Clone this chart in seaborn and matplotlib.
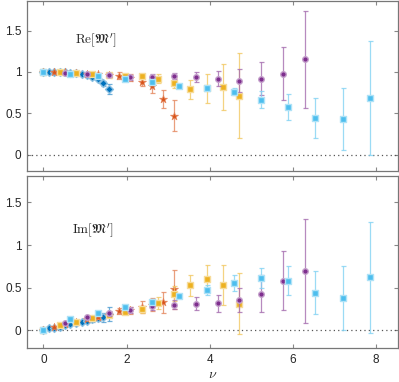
import numpy as np
import pandas as pd
import matplotlib
matplotlib.use("Agg")
import matplotlib.pyplot as plt
import matplotlib.colors as mcolors
import seaborn as sns

# ---- data ----
series_names = ["s1", "s2", "s3", "s4", "s5"]

nu_s1 = [0.00, 0.13, 0.26, 0.39, 0.52, 0.65, 0.79, 0.92, 1.05, 1.18, 1.31, 1.44, 1.57]
nu_s2 = [0.00, 0.26, 0.52, 0.79, 1.05, 1.31, 1.57, 1.83, 2.09, 2.36, 2.62, 2.88, 3.14]
nu_s3 = [0.00, 0.39, 0.79, 1.18, 1.57, 1.96, 2.36, 2.75, 3.14, 3.53, 3.93, 4.32, 4.71]
nu_s4 = [0.00, 0.52, 1.05, 1.57, 2.09, 2.62, 3.14, 3.67, 4.19, 4.71, 5.24, 5.76, 6.28]
nu_s5 = [0.00, 0.65, 1.31, 1.96, 2.62, 3.27, 3.93, 4.58, 5.24, 5.89, 6.54, 7.20, 7.85]

re_s1 = [1.00, 1.00, 1.00, 1.00, 0.995, 0.99, 0.985, 0.98, 0.965, 0.94, 0.91, 0.86, 0.79]
re_s1_err = [0.003, 0.005, 0.005, 0.006, 0.007, 0.008, 0.01, 0.012, 0.015, 0.02, 0.025, 0.035, 0.06]
re_s2 = [1.00, 1.00, 0.995, 0.99, 0.98, 0.97, 0.96, 0.955, 0.93, 0.88, 0.83, 0.67, 0.47]
re_s2_err = [0.003, 0.005, 0.008, 0.01, 0.012, 0.015, 0.02, 0.04, 0.04, 0.05, 0.08, 0.11, 0.19]
re_s3 = [1.00, 1.00, 0.99, 0.975, 0.965, 0.95, 0.95, 0.92, 0.87, 0.79, 0.80, 0.815, 0.71]
re_s3_err = [0.003, 0.005, 0.008, 0.01, 0.015, 0.02, 0.03, 0.05, 0.06, 0.115, 0.175, 0.275, 0.515]
re_s4 = [1.00, 0.99, 0.975, 0.96, 0.935, 0.94, 0.95, 0.94, 0.915, 0.895, 0.92, 0.98, 1.15]
re_s4_err = [0.003, 0.008, 0.015, 0.02, 0.03, 0.03, 0.04, 0.06, 0.09, 0.135, 0.20, 0.32, 0.59]
re_s5 = [1.00, 0.98, 0.955, 0.915, 0.88, 0.835, 0.81, 0.76, 0.665, 0.575, 0.44, 0.435, 0.68]
re_s5_err = [0.003, 0.01, 0.015, 0.01, 0.01, 0.01, 0.02, 0.045, 0.105, 0.155, 0.24, 0.375, 0.69]

im_s1 = [0.00, 0.02, 0.03, 0.04, 0.055, 0.07, 0.085, 0.10, 0.11, 0.125, 0.14, 0.15, 0.19]
im_s1_err = [0.003, 0.005, 0.006, 0.008, 0.01, 0.012, 0.015, 0.018, 0.02, 0.025, 0.03, 0.05, 0.085]
im_s2 = [0.00, 0.04, 0.07, 0.10, 0.13, 0.155, 0.175, 0.22, 0.235, 0.27, 0.30, 0.325, 0.48]
im_s2_err = [0.003, 0.006, 0.01, 0.012, 0.015, 0.02, 0.025, 0.035, 0.04, 0.07, 0.08, 0.12, 0.23]
im_s3 = [0.00, 0.06, 0.10, 0.14, 0.175, 0.21, 0.245, 0.32, 0.43, 0.525, 0.605, 0.535, 0.31]
im_s3_err = [0.003, 0.008, 0.012, 0.015, 0.02, 0.025, 0.04, 0.07, 0.09, 0.12, 0.155, 0.235, 0.36]
im_s4 = [0.00, 0.085, 0.15, 0.20, 0.24, 0.285, 0.30, 0.31, 0.315, 0.35, 0.43, 0.58, 0.695]
im_s4_err = [0.003, 0.01, 0.02, 0.03, 0.035, 0.05, 0.05, 0.075, 0.10, 0.14, 0.215, 0.345, 0.61]
im_s5 = [0.00, 0.125, 0.205, 0.27, 0.335, 0.405, 0.475, 0.555, 0.61, 0.58, 0.44, 0.375, 0.62]
im_s5_err = [0.005, 0.01, 0.01, 0.015, 0.03, 0.02, 0.06, 0.09, 0.12, 0.17, 0.25, 0.375, 0.655]

x_ticks = [0, 2, 4, 6, 8]
y_ticks = [0, 0.5, 1, 1.5]
y_tick_labels = ["0", "0.5", "1", "1.5"]
panel_labels = [r"$\mathrm{Re}[\mathfrak{M}^{\prime}]$", r"$\mathrm{Im}[\mathfrak{M}^{\prime}]$"]
x_label = r"$\nu$"

# ---- build table ----
nus = [nu_s1, nu_s2, nu_s3, nu_s4, nu_s5]
res = [re_s1, re_s2, re_s3, re_s4, re_s5]
res_err = [re_s1_err, re_s2_err, re_s3_err, re_s4_err, re_s5_err]
ims = [im_s1, im_s2, im_s3, im_s4, im_s5]
ims_err = [im_s1_err, im_s2_err, im_s3_err, im_s4_err, im_s5_err]

rows = []
for name, nu, r, re_e, i, im_e in zip(series_names, nus, res, res_err, ims, ims_err):
    for k in range(len(nu)):
        rows.append(dict(series=name, nu=nu[k], part="Re", val=r[k], err=re_e[k]))
        rows.append(dict(series=name, nu=nu[k], part="Im", val=i[k], err=im_e[k]))
df = pd.DataFrame(rows)

palette = {"s1": "#0072BD", "s2": "#D95319", "s3": "#EDB120", "s4": "#7E2F8E", "s5": "#4DBEEE"}
markers = {"s1": "D", "s2": "*", "s3": "s", "s4": "o", "s5": "s"}
msize = {"s1": 16, "s2": 36, "s3": 16, "s4": 16, "s5": 24}
edge_light = {"s1": 0.55, "s2": 0.3, "s3": 0.55, "s4": 0.55, "s5": 0.55}
edge_w = {"s1": 1.0, "s2": 0.5, "s3": 1.0, "s4": 1.0, "s5": 1.0}

sns.set_theme(style="ticks")
plt.rcParams["font.family"] = ["Liberation Sans", "DejaVu Sans"]
plt.rcParams["mathtext.fontset"] = "cm"

fig = plt.figure(figsize=(3.99, 3.82), dpi=100)
ax1 = fig.add_axes([0.068, 0.552, 0.929, 0.446])
ax2 = fig.add_axes([0.068, 0.089, 0.929, 0.450])


def lighten(c, f):
    rgb = np.array(mcolors.to_rgb(c))
    return tuple(rgb + (1 - rgb) * f)


for ax, part, label, ylim, lpos in [
    (ax1, "Re", panel_labels[0], (-0.2, 1.86), (1.25, 1.37)),
    (ax2, "Im", panel_labels[1], (-0.21, 1.81), (1.2, 1.165)),
]:
    sub = df[df.part == part]
    ax.axhline(0, color="#555555", lw=0.9, ls=(0, (1, 2.5)), zorder=1)
    for z, name in enumerate(series_names):
        s = sub[sub.series == name]
        ax.errorbar(s.nu, s.val, yerr=s.err, fmt="none", ecolor=lighten(palette[name], 0.3),
                    elinewidth=0.9, capsize=1.8, capthick=0.9, alpha=0.8, zorder=2 + z)
        sns.scatterplot(data=s, x="nu", y="val", ax=ax, color=palette[name],
                        marker=markers[name], s=msize[name],
                        edgecolor=[lighten(palette[name], edge_light[name])],
                        linewidth=edge_w[name], legend=False, zorder=3 + z)
    ax.set_xlim(-0.39, 8.52)
    ax.set_ylim(*ylim)
    ax.set_yticks(y_ticks)
    ax.set_yticklabels(y_tick_labels)
    ax.set_xticks(x_ticks)
    ax.tick_params(direction="in", top=True, right=True, length=3, width=0.8,
                   color="#888888", labelsize=8.5, pad=4)
    for sp in ax.spines.values():
        sp.set_color("#777777")
        sp.set_linewidth(0.9)
    ax.set_ylabel("")
    ax.set_xlabel("")
    ax.text(lpos[0], lpos[1], label, ha="center", va="center", fontsize=9.5)

ax1.set_xticklabels([])
ax2.set_xlabel(x_label, fontsize=10, labelpad=1)

fig.savefig("out.png", dpi=100)
